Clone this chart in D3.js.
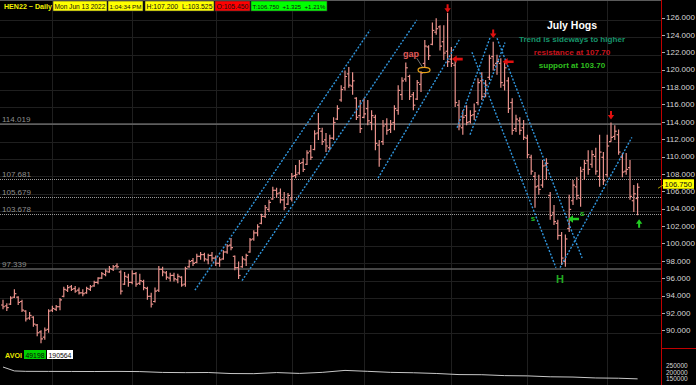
<!DOCTYPE html>
<html>
<head>
<meta charset="utf-8">
<script src="https://d3js.org/d3.v7.min.js"></script>
<style>
html, body { margin: 0; padding: 0; background: #000; }
svg { display: block; font-family: "Liberation Sans", Arial, sans-serif; }
</style>
</head>
<body>
<svg id="chart" width="696" height="385"></svg>
<script>
'use strict';

// daily OHLC, HEN22, mid Oct 2021 .. Jun 13 2022
var opens = [
	93.2, 93.1, 93.3, 94.1, 94.1, 93.6, 92.5, 91.7, 91.8, 90.9, 90.1, 89.5, 90.4,
	92.6, 92.7, 93.0, 94.2, 94.9, 95.3, 95.1, 94.9, 94.6, 94.6, 95.0, 95.4, 95.8, 96.3, 96.7, 97.0, 97.3, 97.7, 97.0, 95.6, 96.4,
	95.8, 96.8, 95.7, 95.9, 95.1, 94.2, 93.6, 94.9, 97.3, 96.9, 96.3, 96.6, 96.1, 96.4, 95.6, 97.6, 98.3, 98.1, 98.8, 99.0, 98.4, 98.9,
	98.6, 98.0, 98.5, 99.3, 100.1, 98.8, 97.5, 97.6, 98.4, 99.3, 100.8, 101.5, 102.6, 103.4, 104.2, 105.4, 106.4, 106.1, 105.3, 104.8,
	105.4, 108.1, 108.4, 109.6, 109.4, 110.9, 111.1, 113.0, 113.2, 112.2, 111.3, 112.4, 114.6, 116.8, 118.2, 119.8, 118.4, 117.0, 115.0,
	114.8, 115.8, 114.2, 114.8, 111.6, 112.0, 114.0, 113.4, 114.2, 115.6, 117.4, 119.2, 119.5, 117.4, 116.9, 118.6, 121.0, 122.9, 123.2, 124.6, 125.2, 123.5, 122.4,
	121.5, 120.8, 116.2, 113.6, 115.0, 114.3, 115.1, 116.5, 119.0, 117.5, 119.4, 121.8, 121.0, 121.0, 118.5, 119.0, 116.5, 113.5, 114.4, 113.6,
	112.4, 110.2, 108.0, 106.9, 107.0, 109.3, 105.8, 103.8, 102.6, 101.2, 98.2, 102.0, 105.2, 106.8, 105.5, 108.8, 109.8, 109.4, 110.3, 108.0, 110.2,
	108.2, 112.0, 112.6, 112.8, 110.2, 108.6, 109.0, 105.2, 105.45
];
var highs = [
	93.8, 93.4, 94.2, 95.0, 94.2, 93.8, 92.6, 92.4, 91.9, 91.0, 90.3, 90.6, 92.7,
	93.1, 93.2, 94.0, 95.3, 95.5, 95.5, 95.4, 95.2, 95.0, 95.3, 95.5, 96.0, 96.4, 97.0, 97.3, 97.7, 97.8, 98.0, 97.2, 97.0, 96.8,
	97.2, 97.0, 96.8, 96.1, 95.3, 94.6, 95.2, 97.7, 97.6, 97.1, 96.9, 96.9, 96.8, 96.5, 97.6, 98.4, 98.6, 99.1, 99.3, 99.2, 99.1, 99.3,
	98.9, 98.7, 99.5, 100.2, 100.9, 98.9, 98.2, 98.8, 99.1, 100.9, 101.8, 102.5, 103.7, 104.7, 105.3, 106.8, 106.7, 106.6, 106.2, 106.1,
	108.4, 109.3, 109.9, 110.1, 111.0, 111.6, 113.3, 115.3, 113.6, 113.0, 112.8, 114.8, 116.2, 118.5, 120.2, 120.6, 120.0, 117.1, 116.8,
	117.0, 116.8, 115.6, 115.1, 112.2, 114.5, 114.7, 114.5, 116.2, 118.5, 119.4, 121.1, 119.7, 117.7, 119.1, 120.1, 123.7, 123.1, 125.7, 126.2, 125.4, 125.4, 126.8,
	122.9, 121.4, 116.8, 115.6, 116.2, 115.6, 116.4, 119.3, 120.0, 119.1, 122.0, 123.5, 122.0, 121.6, 121.1, 119.4, 117.0, 115.1, 114.8, 114.5,
	112.8, 110.5, 108.5, 108.2, 109.9, 110.1, 106.2, 104.7, 103.0, 101.6, 101.3, 105.9, 107.6, 107.9, 109.1, 109.9, 111.0, 111.0, 111.3, 112.8, 110.8,
	112.8, 114.2, 113.9, 113.4, 110.7, 110.7, 109.9, 107.0, 107.2
];
var lows = [
	92.7, 92.5, 93.2, 94.0, 93.2, 92.4, 91.3, 91.5, 90.7, 89.6, 88.8, 89.2, 90.0,
	92.4, 92.5, 92.6, 94.1, 94.7, 94.8, 94.6, 94.4, 94.2, 94.5, 94.8, 95.3, 95.6, 96.2, 96.5, 96.9, 97.1, 97.4, 94.4, 95.5, 95.3,
	95.6, 95.3, 95.5, 94.9, 93.8, 92.9, 93.5, 94.7, 96.5, 96.1, 95.9, 95.9, 95.7, 95.3, 95.3, 97.5, 97.7, 98.0, 98.4, 98.2, 97.9, 98.2,
	97.7, 97.6, 98.4, 99.1, 99.5, 97.2, 96.2, 97.5, 97.7, 99.2, 100.6, 101.1, 102.5, 103.2, 103.9, 105.3, 105.5, 104.9, 104.1, 104.7,
	105.1, 107.8, 108.2, 108.5, 109.3, 109.9, 111.0, 112.2, 111.6, 110.8, 111.0, 112.2, 114.5, 116.6, 117.9, 118.2, 117.4, 114.5, 113.0,
	114.7, 113.9, 113.3, 111.0, 109.1, 111.6, 112.8, 113.0, 113.3, 115.1, 116.8, 118.9, 116.8, 115.6, 116.8, 117.7, 120.5, 121.4, 123.1, 124.3, 122.5, 121.4, 120.6,
	120.6, 116.0, 113.3, 112.8, 113.9, 114.1, 114.5, 116.2, 116.8, 117.1, 119.1, 120.2, 119.7, 118.2, 117.9, 115.3, 112.8, 113.1, 112.8, 112.2,
	110.1, 108.2, 104.4, 105.9, 106.7, 107.6, 103.0, 102.4, 100.7, 97.8, 97.6, 101.6, 104.7, 105.3, 104.5, 107.6, 108.2, 109.0, 108.2, 106.8, 107.0,
	107.9, 112.0, 112.2, 110.5, 107.9, 108.2, 105.3, 103.9, 103.525
];
var closes = [
	93.0, 92.9, 94.0, 94.5, 93.5, 92.6, 91.6, 92.0, 91.0, 90.0, 89.3, 90.3, 92.5,
	92.8, 93.0, 93.8, 95.0, 95.2, 95.0, 94.8, 94.6, 94.5, 95.1, 95.3, 95.8, 96.3, 96.8, 97.1, 97.4, 97.6, 97.6, 94.8, 96.5, 95.8,
	96.8, 95.6, 96.0, 95.2, 94.2, 93.3, 94.8, 97.3, 97.0, 96.4, 96.6, 96.2, 96.5, 95.5, 97.4, 98.2, 98.0, 98.8, 99.0, 98.5, 98.9, 98.6,
	98.0, 98.4, 99.3, 100.0, 99.8, 97.5, 96.6, 98.5, 98.9, 100.7, 101.5, 102.2, 103.4, 104.4, 105.0, 106.4, 106.0, 105.3, 104.4, 105.8,
	108.0, 108.2, 109.5, 108.8, 110.7, 110.2, 112.9, 113.5, 112.0, 111.5, 112.4, 114.2, 115.8, 118.0, 119.5, 118.5, 119.0, 114.8, 113.5,
	115.2, 114.4, 115.0, 111.8, 110.0, 113.8, 113.3, 114.0, 115.8, 117.9, 119.0, 120.5, 117.2, 116.2, 118.8, 119.9, 123.0, 121.9, 124.8, 125.0, 123.0, 122.2, 121.2,
	121.0, 116.5, 113.8, 114.8, 114.2, 115.0, 115.5, 118.8, 117.2, 118.5, 121.6, 120.8, 121.2, 118.8, 120.5, 115.8, 113.3, 114.6, 113.3, 112.5,
	110.5, 108.6, 106.8, 106.5, 109.2, 109.5, 103.5, 102.8, 101.2, 98.6, 100.8, 104.2, 107.0, 105.8, 108.6, 109.5, 108.8, 110.5, 108.6, 110.8, 107.5,
	111.5, 112.5, 113.2, 110.8, 108.5, 108.8, 105.7, 106.0, 106.75
];

// first bar of each month, Nov .. Jun
var monthStarts = [13, 34, 56, 76, 95, 118, 138, 159];
var priceTicks = [90, 92, 94, 96, 98, 100, 102, 104, 106, 108, 110, 112, 114, 116, 118, 120, 122, 124, 126];
var solidLevels = [114.019, 97.339];
var dottedLevels = [107.681, 105.679, 103.678];

// open interest line in the lower pane
var oiBars = [0, 3, 6, 12, 18, 24, 30, 36, 42, 48, 54, 60, 66, 72, 78, 84, 90, 96, 102, 108, 114, 120, 126, 132, 138, 144, 150, 156, 162, 167];
var oiValues = [242000, 212000, 209000, 208500, 208000, 207500, 208500, 207000, 200500, 199000, 200000, 192000, 191000, 199500, 193000,
	201000, 216000, 209000, 201000, 198000, 192500, 184000, 183000, 176000, 174000, 167000, 165000, 158000, 156000, 151000];
var volTicks = [250000, 200000, 150000];

// hand drawn trend lines, [bar, price] end points
var trendLines = [
	[[50.5, 94.9], [96.6, 124.85]],
	[[62.9, 96.0], [108.9, 126.0]],
	[[98.7, 107.8], [120.3, 123.9]],
	[[119.5, 113.6], [128.2, 124.0]],
	[[122.9, 112.8], [132.1, 123.4]],
	[[123.4, 122.3], [145.5, 97.5]],
	[[130.0, 123.9], [152.4, 98.6]],
	[[146.6, 97.5], [165.5, 112.5]]
];
var arrowMarks = [
	{ dir: 'down', bar: 117, price: 127.3, color: '#e01010' },
	{ dir: 'down', bar: 129, price: 124.4, color: '#e01010' },
	{ dir: 'down', bar: 160, price: 115.0, color: '#e01010' },
	{ dir: 'left', bar: 119.4, price: 121.5, color: '#e01010' },
	{ dir: 'left', bar: 132.8, price: 121.2, color: '#e01010' },
	{ dir: 'left', bar: 150.0, price: 103.1, color: '#22cc22' },
	{ dir: 'up', bar: 167.4, price: 102.6, color: '#22cc22' }
];
var letterMarks = [
	{ text: 's', bar: 139.5, price: 103.2, color: '#22bb22', size: 8 },
	{ text: 's', bar: 152.4, price: 103.8, color: '#22bb22', size: 8 },
	{ text: 'H', bar: 146.6, price: 96.2, color: '#22aa22', size: 11 },
	{ text: 'gap', bar: 107.4, price: 122.1, color: '#e05a5a', size: 9 }
];
var gapMark = { bar: 110.8, price: 120.25, labelBar: 108.9, labelPrice: 121.6 };

var headerBoxes = [
	{ text: 'Mon Jun 13 2022', x0: 53, x1: 107, fill: '#ffff00' },
	{ text: '1:04:34 PM', x0: 108, x1: 143, fill: '#ffff00' },
	{ text: 'H:107.200  L:103.525', x0: 145, x1: 214, fill: '#ffff00' },
	{ text: 'O:105.450', x0: 215, x1: 250, fill: '#ff0000' },
	{ text: 'T:106.750  +1.325  +1.21%', x0: 251, x1: 327, fill: '#00ff00' }
];
var notes = [
	{ text: 'July Hogs', color: '#ffffff', size: 10.5, y: 29 },
	{ text: 'Trend is sideways to higher', color: '#17946a', size: 8.1, y: 42 },
	{ text: 'resistance at 107.70', color: '#c8141e', size: 8.1, y: 55 },
	{ text: 'support at 103.70', color: '#2fbf1f', size: 8.1, y: 68 }
];

var lastClose = closes[closes.length - 1];
var axisX = 661, paneBottom = 348;
var barColor = '#e8918b';

var svg = d3.select('#chart');
svg.append('rect').attr('width', 696).attr('height', 385).attr('fill', '#000');

var x = d3.scaleLinear().domain([0, opens.length - 1]).range([3, 637.6]);
var y = d3.scaleLinear().domain([90, 126]).range([332.8, 20]);
var yVol = d3.scaleLinear().domain([150000, 250000]).range([379, 366]);

var snap = function(v) { return Math.round(v) + 0.5; };

// shrink a text's font until it fits the given width
function fitText(sel, maxSize) {
	sel.each(function(d) {
		var node = this, avail = d.x1 - d.x0 - 3;
		d3.select(node).attr('font-size', maxSize);
		var len = node.getComputedTextLength();
		if (len > avail) d3.select(node).attr('font-size', maxSize * avail / len);
	});
}

svg.append('clipPath').attr('id', 'pane')
	.append('rect').attr('x', 0).attr('y', 0).attr('width', axisX).attr('height', paneBottom);

// grid
var grid = svg.append('g').attr('stroke', '#1f1f1f').attr('stroke-width', 1);
grid.selectAll('line.h').data(priceTicks).enter().append('line')
	.attr('class', 'h')
	.attr('x1', 0).attr('x2', axisX)
	.attr('y1', function(d) { return snap(y(d)); })
	.attr('y2', function(d) { return snap(y(d)); });
grid.selectAll('line.v').data(monthStarts).enter().append('line')
	.attr('class', 'v')
	.attr('x1', function(d) { return snap(x(d)); })
	.attr('x2', function(d) { return snap(x(d)); })
	.attr('y1', 0).attr('y2', 385);

svg.append('line').attr('x1', 0).attr('x2', axisX).attr('y1', 0.5).attr('y2', 0.5)
	.attr('stroke', '#5a5a5a');

// reference levels
var levels = svg.append('g');
levels.selectAll('line.solid').data(solidLevels).enter().append('line')
	.attr('class', 'solid')
	.attr('x1', 0).attr('x2', axisX)
	.attr('y1', function(d) { return y(d); })
	.attr('y2', function(d) { return y(d); })
	.attr('stroke', '#5e5e5e').attr('stroke-width', 1.6);
levels.selectAll('line.dotted').data(dottedLevels).enter().append('line')
	.attr('class', 'dotted')
	.attr('x1', 0).attr('x2', axisX)
	.attr('y1', function(d) { return snap(y(d)); })
	.attr('y2', function(d) { return snap(y(d)); })
	.attr('stroke', '#9a9a9a').attr('stroke-dasharray', '1,1');
levels.selectAll('text').data(solidLevels.concat(dottedLevels)).enter().append('text')
	.attr('x', 2)
	.attr('y', function(d) { return y(d) - 2; })
	.attr('fill', '#8e8e8e')
	.attr('font-size', 8)
	.text(function(d) { return d.toFixed(3); });

// OHLC bars
var bars = svg.append('g').attr('clip-path', 'url(#pane)')
	.attr('stroke', barColor).attr('stroke-width', 1.2)
	.selectAll('g').data(opens).enter().append('g');
bars.append('line')
	.attr('x1', function(d, i) { return x(i); })
	.attr('x2', function(d, i) { return x(i); })
	.attr('y1', function(d, i) { return y(highs[i]); })
	.attr('y2', function(d, i) { return y(lows[i]); });
bars.append('line')
	.attr('x1', function(d, i) { return x(i) - 2; })
	.attr('x2', function(d, i) { return x(i); })
	.attr('y1', function(d) { return y(d); })
	.attr('y2', function(d) { return y(d); });
bars.append('line')
	.attr('x1', function(d, i) { return x(i); })
	.attr('x2', function(d, i) { return x(i) + 2; })
	.attr('y1', function(d, i) { return y(closes[i]); })
	.attr('y2', function(d, i) { return y(closes[i]); });

// trend lines
svg.append('g').attr('clip-path', 'url(#pane)')
	.selectAll('line').data(trendLines).enter().append('line')
	.attr('x1', function(d) { return x(d[0][0]); })
	.attr('y1', function(d) { return y(d[0][1]); })
	.attr('x2', function(d) { return x(d[1][0]); })
	.attr('y2', function(d) { return y(d[1][1]); })
	.attr('stroke', '#2f95dc').attr('stroke-width', 1.4)
	.attr('stroke-dasharray', '2,1.6');

// arrows
var arrowPaths = {
	down: 'M-1,-4.5h2v4h2.2l-3.2,4.5l-3.2,-4.5h2.2z',
	up: 'M-1,4.5h2v-4h2.2l-3.2,-4.5l-3.2,4.5h2.2z',
	left: 'M6,-1.3v2.6h-6v2.4l-5,-3.7l5,-3.7v2.4z'
};
svg.append('g').selectAll('path').data(arrowMarks).enter().append('path')
	.attr('transform', function(d) { return 'translate(' + x(d.bar) + ',' + y(d.price) + ')'; })
	.attr('d', function(d) { return arrowPaths[d.dir]; })
	.attr('fill', function(d) { return d.color; });

svg.append('g').selectAll('text').data(letterMarks).enter().append('text')
	.attr('x', function(d) { return x(d.bar); })
	.attr('y', function(d) { return y(d.price); })
	.attr('dy', '0.35em')
	.attr('text-anchor', 'middle')
	.attr('font-size', function(d) { return d.size; })
	.attr('font-weight', 'bold')
	.attr('fill', function(d) { return d.color; })
	.text(function(d) { return d.text; });

svg.append('line')
	.attr('x1', x(gapMark.labelBar)).attr('y1', y(gapMark.labelPrice))
	.attr('x2', x(gapMark.bar) - 1).attr('y2', y(gapMark.price) - 2)
	.attr('stroke', '#8a8a8a').attr('stroke-width', 0.8);
svg.append('ellipse')
	.attr('cx', x(gapMark.bar)).attr('cy', y(gapMark.price))
	.attr('rx', 6).attr('ry', 2.6)
	.attr('fill', 'none').attr('stroke', '#e8a21a').attr('stroke-width', 1.2);

// text block
svg.append('g').selectAll('text').data(notes).enter().append('text')
	.attr('x', 572).attr('y', function(d) { return d.y; })
	.attr('text-anchor', 'middle')
	.attr('font-weight', 'bold')
	.attr('font-size', function(d) { return d.size; })
	.attr('fill', function(d) { return d.color; })
	.text(function(d) { return d.text; });

// header
var header = svg.append('g');
header.append('text')
	.datum({ x0: 2, x1: 53 })
	.attr('x', 4).attr('y', 9)
	.attr('font-weight', 'bold')
	.attr('fill', '#f2f200')
	.text('HEN22 ~ Daily')
	.call(fitText, 8);
var hb = header.selectAll('g').data(headerBoxes).enter().append('g');
hb.append('rect')
	.attr('x', function(d) { return d.x0; })
	.attr('y', 1)
	.attr('width', function(d) { return d.x1 - d.x0; })
	.attr('height', 10)
	.attr('fill', function(d) { return d.fill; })
	.attr('stroke', '#333').attr('stroke-width', 0.6);
hb.append('text')
	.attr('x', function(d) { return d.x0 + 1.5; })
	.attr('y', 9)
	.attr('fill', '#111')
	.attr('xml:space', 'preserve')
	.text(function(d) { return d.text; })
	.call(fitText, 8);

// lower pane
svg.append('path')
	.datum(oiValues)
	.attr('fill', 'none')
	.attr('stroke', '#c8c8c8').attr('stroke-width', 1)
	.attr('d', d3.line()
		.x(function(d, k) { return x(oiBars[k]); })
		.y(function(d) { return yVol(d); }));

var avoiBoxes = [
	{ text: '49198', x0: 24, x1: 46, fill: '#00d000' },
	{ text: '190564', x0: 47, x1: 73, fill: '#ffffff' }
];
svg.append('text')
	.datum({ x0: 3, x1: 23 })
	.attr('x', 5).attr('y', 357.5)
	.attr('font-weight', 'bold').attr('fill', '#e8e800')
	.text('AVOI')
	.call(fitText, 8);
var ab = svg.append('g').selectAll('g').data(avoiBoxes).enter().append('g');
ab.append('rect')
	.attr('x', function(d) { return d.x0; })
	.attr('y', 350)
	.attr('width', function(d) { return d.x1 - d.x0; })
	.attr('height', 9)
	.attr('fill', function(d) { return d.fill; });
ab.append('text')
	.attr('x', function(d) { return d.x0 + 1.5; })
	.attr('y', 357.5)
	.attr('fill', '#0a0a0a')
	.text(function(d) { return d.text; })
	.call(fitText, 7.5);

// right axis
var axis = svg.append('g');
axis.append('line')
	.attr('x1', axisX + 0.5).attr('x2', axisX + 0.5)
	.attr('y1', 0).attr('y2', 385)
	.attr('stroke', '#c00000');
axis.append('line')
	.attr('x1', axisX).attr('x2', 696)
	.attr('y1', paneBottom + 0.5).attr('y2', paneBottom + 0.5)
	.attr('stroke', '#c00000');
axis.selectAll('line.tick').data(priceTicks).enter().append('line')
	.attr('class', 'tick')
	.attr('x1', axisX + 1).attr('x2', axisX + 4)
	.attr('y1', function(d) { return snap(y(d) - 2.5); })
	.attr('y2', function(d) { return snap(y(d) - 2.5); })
	.attr('stroke', '#aaa');
axis.selectAll('text.price').data(priceTicks).enter().append('text')
	.attr('class', 'price')
	.attr('x', axisX + 5)
	.attr('y', function(d) { return y(d) - 2.5; })
	.attr('dy', '0.35em')
	.attr('font-size', 8)
	.attr('fill', '#d6d6d6')
	.text(function(d) { return d.toFixed(3); });
axis.selectAll('text.vol').data(volTicks).enter().append('text')
	.attr('class', 'vol')
	.attr('x', axisX + 5)
	.attr('y', function(d) { return yVol(d); })
	.attr('dy', '0.35em')
	.attr('font-size', 6.5)
	.attr('fill', '#d6d6d6')
	.text(function(d) { return d; });

// last price marker
axis.append('line')
	.attr('x1', axisX - 3).attr('y1', y(lastClose) + 1)
	.attr('x2', axisX + 2).attr('y2', y(lastClose) - 2)
	.attr('stroke', '#b0a000');
axis.append('rect')
	.attr('x', axisX + 2).attr('y', y(lastClose) - 8)
	.attr('width', 31).attr('height', 9.5)
	.attr('fill', '#ffff00');
axis.append('text')
	.attr('x', axisX + 3.5).attr('y', y(lastClose) - 3.4)
	.attr('dy', '0.35em')
	.attr('font-size', 7.6)
	.attr('fill', '#111')
	.text(lastClose.toFixed(3));
</script>
</body>
</html>
